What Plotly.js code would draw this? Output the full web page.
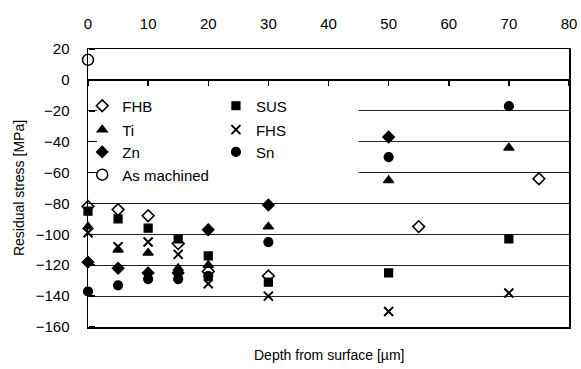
<!DOCTYPE html>
<html>
<head>
<meta charset="utf-8">
<script src="https://cdn.plot.ly/plotly-3.0.1.min.js"></script>
<style>html,body{margin:0;padding:0;background:#fff;}#chart{width:581px;height:369px;}</style>
</head>
<body>
<div id="chart"></div>
<script>
// Data
const fhbX = [0, 5, 10, 15, 20, 30, 55, 75];
const fhbY = [-82, -84, -88, -106, -124, -127, -95, -64];
const susX = [0, 5, 10, 15, 20, 30, 50, 70];
const susY = [-85, -90, -96, -103, -114, -131, -125, -103];
const tiX = [0, 5, 10, 15, 20, 30, 50, 70];
const tiY = [-95, -110, -112, -122, -120, -95, -65, -44];
const fhsX = [0, 5, 10, 15, 20, 30, 50, 70];
const fhsY = [-99, -108, -105, -113, -132, -140, -150, -138];
const znX = [0, 5, 10, 15, 20, 30, 50];
const znY = [-118, -122, -125, -125, -97, -81, -37];
const snX = [0, 5, 10, 15, 20, 30, 50, 70];
const snY = [-137, -133, -129, -129, -127, -105, -50, -17];
const asX = [0];
const asY = [13];
const xTicks = [0, 10, 20, 30, 40, 50, 60, 70, 80];
const yTicks = [20, 0, -20, -40, -60, -80, -100, -120, -140, -160];

const FONT = 'Liberation Sans, Arial, sans-serif';
function tr(name, x, y, symbol, size, legend, lw) {
  return {
    type: 'scatter', mode: 'markers', name: name, x: x, y: y,
    legend: legend, cliponaxis: false,
    marker: {symbol: symbol, size: size, color: '#000', line: {color: '#000', width: lw || 1.2}}
  };
}
const traces = [
  tr('FHB', fhbX, fhbY, 'diamond-open', 9, 'legend', 1.6),
  tr('SUS', susX, susY, 'square', 8, 'legend2'),
  tr('Ti', tiX, tiY, 'triangle-up', 9, 'legend3'),
  tr('FHS', fhsX, fhsY, 'x-thin', 9, 'legend4', 2),
  tr('Zn', znX, znY, 'diamond', 9, 'legend5'),
  tr('Sn', snX, snY, 'circle', 9, 'legend6'),
  tr('As machined', asX, asY, 'circle-open', 11, 'legend7', 1.5)
];

function lg(px, py) {
  return {x: px, y: py, xanchor: 'left', yanchor: 'middle', bgcolor: 'rgba(0,0,0,0)',
          font: {family: FONT, size: 15, color: '#000'}};
}
const c1 = -0.012, c2 = 0.266;
const layout = {
  width: 581, height: 369,
  margin: {l: 88, r: 12, t: 49, b: 42},
  paper_bgcolor: '#fff', plot_bgcolor: '#fff',
  font: {family: FONT, size: 15, color: '#000'},
  xaxis: {range: [0, 80], showgrid: false, zeroline: false, showline: true, mirror: true,
          linecolor: '#000', linewidth: 1.5, ticks: '', showticklabels: false},
  xaxis2: {range: [0, 80], overlaying: 'x', side: 'top', anchor: 'free', position: 1,
           tickvals: xTicks, ticks: '', showline: false, showgrid: false, zeroline: false,
           ticklabelstandoff: 17, tickfont: {family: FONT, size: 15, color: '#000'}},
  // tick marks hanging down from the y = 0 line
  xaxis3: {range: [0, 80], overlaying: 'x', side: 'bottom', anchor: 'free', position: 160/180,
           tickvals: xTicks, ticks: 'outside', ticklen: 5, tickcolor: '#000', tickwidth: 1.5,
           showticklabels: false, showline: false, showgrid: false, zeroline: false},
  yaxis: {range: [-160, 20], tickvals: yTicks, showgrid: true, gridcolor: '#222', gridwidth: 1,
          zeroline: true, zerolinecolor: '#000', zerolinewidth: 1.5,
          showline: true, mirror: true, linecolor: '#000', linewidth: 1.5,
          ticks: '', ticklabelstandoff: 14,
          tickfont: {family: FONT, size: 15, color: '#000'},
          title: {text: 'Residual stress [MPa]', font: {family: FONT, size: 14, color: '#000'}, standoff: 8}},
  // tick marks pointing right from the left axis
  yaxis2: {range: [-160, 20], overlaying: 'y', side: 'right', anchor: 'free', position: 0,
           tickvals: yTicks, ticks: 'outside', ticklen: 6, tickcolor: '#000', tickwidth: 1.5,
           showticklabels: false, showline: false, showgrid: false, zeroline: false},
  showlegend: true,
  legend: lg(c1, 0.795), legend2: lg(c2, 0.795),
  legend3: lg(c1, 0.709), legend4: lg(c2, 0.709),
  legend5: lg(c1, 0.629), legend6: lg(c2, 0.629),
  legend7: lg(c1, 0.547),
  shapes: [{type: 'rect', xref: 'x', yref: 'y', x0: 1.5, x1: 45, y0: -74, y1: -4,
            fillcolor: '#fff', line: {width: 0}, layer: 'between'}],
  annotations: [{text: 'Depth from surface [µm]', xref: 'paper', yref: 'paper', x: 0.5, y: -0.1,
                 xanchor: 'center', yanchor: 'middle', showarrow: false,
                 font: {family: FONT, size: 14, color: '#000'}}]
};
// invisible helpers so the extra axes are drawn
traces.push({type: 'scatter', x: [0], y: [0], xaxis: 'x2', mode: 'markers', marker: {opacity: 0}, showlegend: false, hoverinfo: 'skip'});
traces.push({type: 'scatter', x: [0], y: [0], xaxis: 'x3', mode: 'markers', marker: {opacity: 0}, showlegend: false, hoverinfo: 'skip'});
traces.push({type: 'scatter', x: [0], y: [0], yaxis: 'y2', mode: 'markers', marker: {opacity: 0}, showlegend: false, hoverinfo: 'skip'});
Plotly.newPlot('chart', traces, layout, {displayModeBar: false, staticPlot: true});
</script>
</body>
</html>
